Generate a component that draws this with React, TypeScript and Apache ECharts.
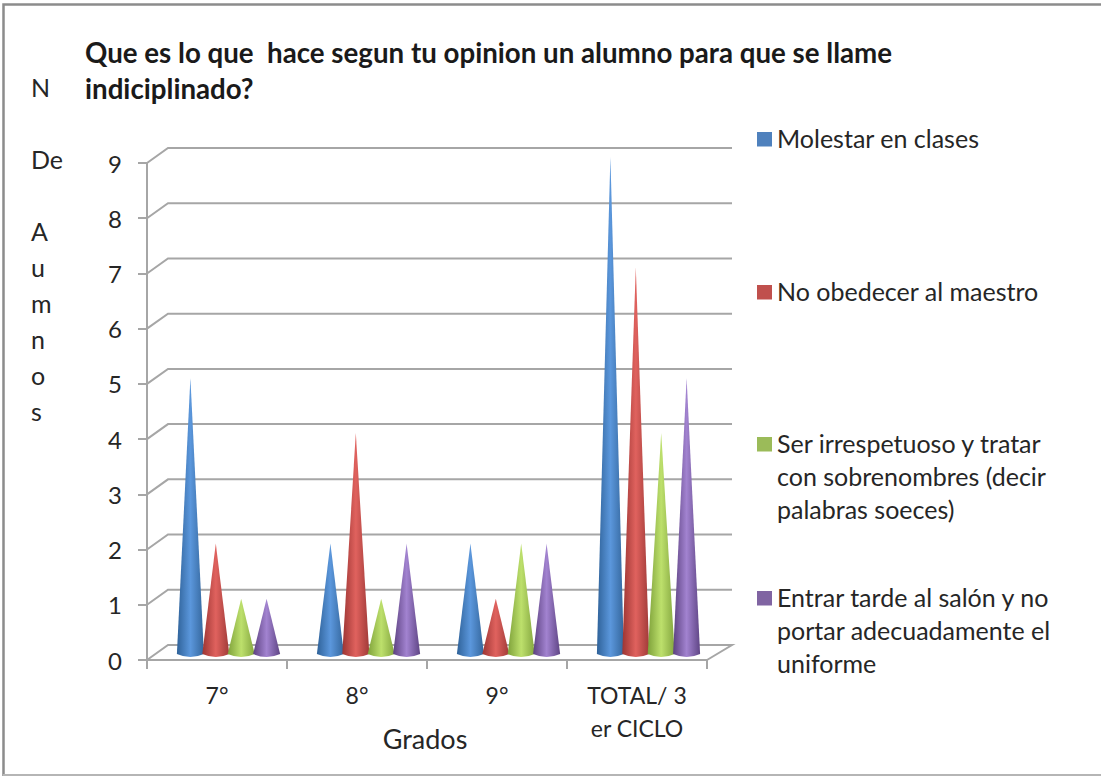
import React, { useEffect, useRef } from "react";
import * as echarts from "echarts";

const FONT = "Lato";
const TEXT = "#262626";
const LINE = "#a6a6a6";

const titleLines = [
  "Que es lo que  hace segun tu opinion un alumno para que se llame",
  "indiciplinado?",
];
const yAxisTitle = ["N", "", "De", "", "A", "u", "m", "n", "o", "s"];
const xAxisTitle = "Grados";
const categories = ["7°", "8°", "9°", "TOTAL/ 3\ner CICLO"];
const seriesNames = [
  "Molestar en clases",
  "No obedecer al maestro",
  "Ser irrespetuoso y tratar con sobrenombres (decir palabras soeces)",
  "Entrar tarde al salón y no portar adecuadamente el uniforme",
];
const legendLines = [
  ["Molestar en clases"],
  ["No obedecer al maestro"],
  ["Ser irrespetuoso y tratar", "con sobrenombres (decir", "palabras soeces)"],
  ["Entrar tarde al salón y no", "portar adecuadamente el", "uniforme"],
];
const molestar = [5, 2, 2, 9];
const noObedecer = [2, 4, 1, 7];
const irrespetuoso = [1, 1, 2, 4];
const tarde = [1, 2, 2, 5];
const seriesValues = [molestar, noObedecer, irrespetuoso, tarde];

const legendColors = ["#4f81bd", "#c0504d", "#9bbb59", "#8064a2"];
const coneShades = [
  ["#2f6299", "#5b97dc", "#34669c"],
  ["#9c3533", "#e0625e", "#a03a38"],
  ["#7ea13a", "#bde06c", "#84a63f"],
  ["#5c4180", "#a283d0", "#5f4585"],
];
const legendTops = [121.5, 274.5, 426.5, 580.5];

const LINE_H = 33;
const legendIcon = (n: number) =>
  `path://M0 10.5H15V25H0ZM0 0L0 0M15 ${n * LINE_H}L15 ${n * LINE_H}`;

const makeWall = (params: any, api: any) => {
  const cs = params.coordSys;
  const y = api.coord([0, api.value(0)])[1];
  const left = cs.x;
  const right = cs.x + cs.width;
  const dx = 21;
  const dy = -15;
  const pts = [
    [left, y],
    [left + dx, y + dy],
    [right + 25, y + dy],
  ];
  if (api.value(0) === 0) pts.push([right, y]);
  return {
    type: "polyline",
    shape: { points: pts },
    style: { stroke: LINE, lineWidth: 2, fill: "none" },
  };
};

const makeCone = (slot: number) => (_p: any, api: any) => {
  const cat = api.value(0);
  const top = api.coord([cat, api.value(1)]);
  const base = api.coord([cat, 0]);
  const cx = base[0] + 11.5 + (slot - 1.5) * 25.4;
  const half = 13.5;
  const l = cx - half;
  const r = cx + half;
  const t = top[1] - 6;
  const b = base[1] - 6;
  const shades = coneShades[slot];
  return {
    type: "path",
    shape: {
      pathData: `M${l} ${b}L${cx} ${t}L${r} ${b}Q${cx} ${b + 6} ${l} ${b}Z`,
      x: l,
      y: t,
      width: r - l,
      height: b + 3 - t,
      layout: "cover",
    },
    style: {
      fill: new echarts.graphic.LinearGradient(0, 0, 1, 0, [
        { offset: 0, color: shades[0] },
        { offset: 0.5, color: shades[1] },
        { offset: 1, color: shades[2] },
      ]),
    },
  };
};

export default function App() {
  const ref = useRef<HTMLDivElement>(null);
  useEffect(() => {
    const chart = echarts.init(ref.current!, null, { renderer: "svg" });
    chart.setOption({
      animation: false,
      backgroundColor: "#ffffff",
      textStyle: { fontFamily: FONT, color: TEXT },
      title: {
        text: titleLines.join("\n"),
        left: 80,
        top: 29,
        textStyle: {
          fontFamily: FONT,
          fontSize: 27.7,
          fontWeight: "bold",
          lineHeight: 36,
          color: "#1a1a1a",
        },
      },
      graphic: [
        {
          type: "polyline",
          silent: true,
          shape: { points: [[3.5, 776], [3.5, 4.5], [1101, 4.5]] },
          style: { fill: "none", stroke: "#8c8c8c", lineWidth: 2.5 },
        },
        {
          type: "line",
          silent: true,
          shape: { x1: 3, y1: 775, x2: 1101, y2: 775 },
          style: { stroke: "#b5b5b5", lineWidth: 2 },
        },
      ],
      legend: seriesNames.map((name, i) => ({
        data: [name],
        left: 757,
        top: legendTops[i],
        padding: 0,
        itemWidth: 15,
        itemHeight: legendLines[i].length * LINE_H,
        icon: legendIcon(legendLines[i].length),
        symbolKeepAspect: false,
        selectedMode: false,
        formatter: () => legendLines[i].join("\n"),
        textStyle: {
          fontFamily: FONT,
          fontSize: 25,
          lineHeight: LINE_H,
          color: TEXT,
        },
      })),
      grid: { left: 147, top: 163, width: 560, height: 497, outerBoundsMode: "none" },
      xAxis: {
        type: "category",
        data: categories,
        name: xAxisTitle,
        nameLocation: "middle",
        nameGap: 65,
        nameMoveOverlap: false,
        nameTextStyle: { fontFamily: FONT, fontSize: 27, color: TEXT, padding: [0, 4, 0, 0] },
        axisLine: { show: true, onZero: false, lineStyle: { color: LINE, width: 2 } },
        axisTick: { show: true, length: 9, lineStyle: { color: LINE, width: 2 } },
        axisLabel: {
          fontFamily: FONT,
          fontSize: 23,
          lineHeight: LINE_H,
          color: TEXT,
          margin: 18,
          interval: 0,
        },
      },
      yAxis: {
        type: "value",
        min: 0,
        max: 9,
        interval: 1,
        name: yAxisTitle.join("\n"),
        nameLocation: "middle",
        nameRotate: 0,
        nameGap: 116,
        nameMoveOverlap: false,
        nameTextStyle: {
          fontFamily: FONT,
          fontSize: 25,
          lineHeight: 36,
          color: TEXT,
          align: "left",
          verticalAlign: "bottom",
          padding: [0, 0, -17.5, 0],
        },
        axisLine: { show: true, lineStyle: { color: LINE, width: 2 } },
        axisTick: { show: true, length: 9, lineStyle: { color: LINE, width: 2 } },
        splitLine: { show: false },
        axisLabel: { fontFamily: FONT, fontSize: 24, color: TEXT, margin: 25, verticalAlign: "middle" },
      },
      series: [
        {
          type: "custom",
          name: "pared",
          silent: true,
          z: 1,
          encode: { y: 0 },
          data: [0, 1, 2, 3, 4, 5, 6, 7, 8, 9],
          renderItem: makeWall,
        },
        ...seriesNames.map((name, i) => ({
          type: "custom",
          name,
          z: 3,
          itemStyle: { color: legendColors[i] },
          encode: { x: 0, y: 1 },
          data: seriesValues[i].map((v, c) => [c, v]),
          renderItem: makeCone(i),
        })),
      ],
    });
    return () => chart.dispose();
  }, []);
  return <div ref={ref} style={{ position: "fixed", left: 0, top: 0, width: 1101, height: 776 }} />;
}
